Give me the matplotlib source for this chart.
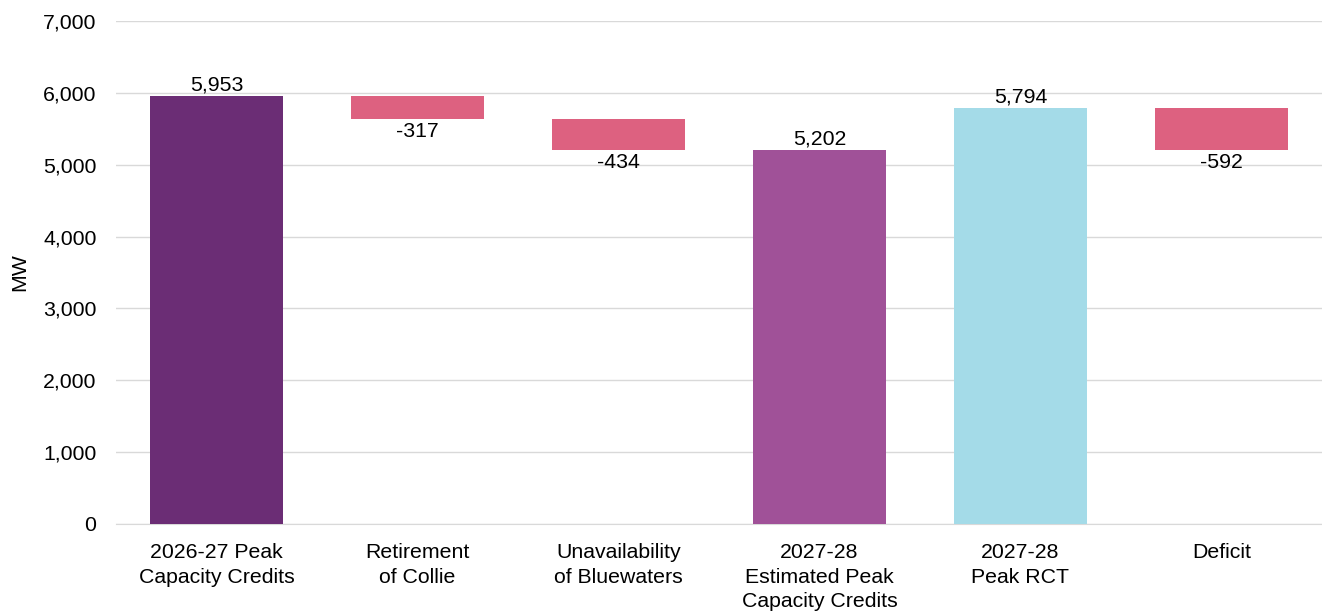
import matplotlib.pyplot as plt
from matplotlib.ticker import FuncFormatter

plt.rcParams['font.family'] = ['Liberation Sans', 'DejaVu Sans']
plt.rcParams['font.size'] = 15.3

# データ
categories = ["2026-27 Peak\nCapacity Credits", "Retirement\nof Collie",
              "Unavailability\nof Bluewaters", "2027-28\nEstimated Peak\nCapacity Credits",
              "2027-28\nPeak RCT", "Deficit"]
values = [5953, -317, -434, 5202, 5794, -592]
is_total = [True, False, False, True, True, False]
colors = ["#6B2D75", "#DD6180", "#DD6180", "#A05198", "#A4DBE8", "#DD6180"]

# 棒の下端を計算
bottoms = []
heights = []
running = 0
for i, v in enumerate(values):
    if is_total[i]:
        bottoms.append(0)
        heights.append(v)
        running = v
    elif categories[i] == "Deficit":
        # RCT と推定値の差
        bottoms.append(values[3])
        heights.append(values[4] - values[3])
    else:
        bottoms.append(running + v)
        heights.append(-v)
        running = running + v

fig = plt.figure(figsize=(13.22, 6.15), dpi=100)
ax = fig.add_axes([0.0877, 0.148, 0.9123, 0.818])

x = list(range(len(categories)))
ax.bar(x, heights, bottom=bottoms, width=0.66, color=colors, zorder=3)

for i, v in enumerate(values):
    if v >= 0:
        ax.text(x[i], bottoms[i] + heights[i] + 20, f"{v:,}", ha="center", va="bottom")
    else:
        ax.text(x[i], bottoms[i] - 40, f"{v:,}", ha="center", va="top")

ax.set_xlim(-0.5, len(categories) - 0.5)
ax.set_ylim(0, 7000)
ax.set_yticks(range(0, 7001, 1000))
ax.yaxis.set_major_formatter(FuncFormatter(lambda v, p: f"{int(v):,}"))
ax.grid(axis="y", color="#D9D9D9", linewidth=1, zorder=0)
ax.set_xticks(x)
ax.set_xticklabels(categories, linespacing=1.35)
ax.tick_params(axis="both", length=0)
ax.tick_params(axis="x", pad=14)
ax.tick_params(axis="y", pad=14)
for s in ["top", "right", "left"]:
    ax.spines[s].set_visible(False)
ax.spines["bottom"].set_color("#D9D9D9")
ax.set_ylabel("MW", labelpad=10)

fig.savefig("out.png", dpi=100)
